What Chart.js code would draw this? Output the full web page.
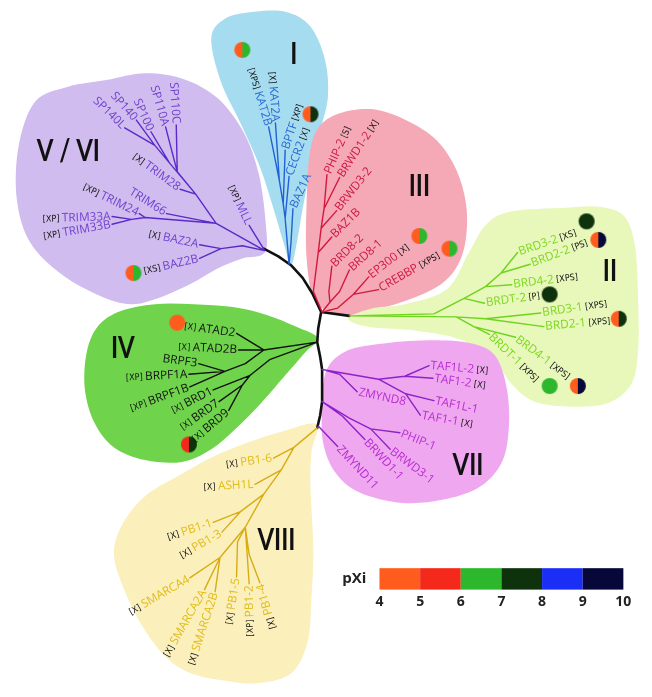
<!DOCTYPE html>
<html>
<head>
<meta charset="utf-8">
<script src="https://cdn.jsdelivr.net/npm/chart.js@4/dist/chart.umd.min.js"></script>
<style>
html, body { margin: 0; padding: 0; background: #fff; }
canvas { display: block; }
</style>
</head>
<body>
<canvas id="chart" width="652" height="697"></canvas>
<script>
// pXi colour key
const pxiTicks = [4, 5, 6, 7, 8, 9, 10];
const pxiColors = ['#ff5c1e', '#f5281c', '#2db72d', '#0e330c', '#1a2ef5', '#07073a'];

// backbone of the tree (tree units)
const backbone = [[262,246],[277,254],[290,263],[302,276],[312,292],[321,311],[318,328],[317,342],[320,357],[322,370],[322,387],[322,403],[320,417],[317,430]];
const stemII = [[321,311],[350,315]];

// subfamily I
const leavesI = ['KAT2B','KAT2A','BPTF','CECR2','BAZ1A'];
const tagsI = ['XPS','X','XP','X',''];
const tipsI = [[267,121],[274,117],[284,145],[288,172],[292,205]];
const pathsI = [
  [[288,262],[286,238],[284,215],[282,200],[278,176]],
  [[288,262],[286,238],[284,215],[282,200],[278,176]],
  [[288,262],[286,238],[284,215],[282,200]],
  [[288,262],[286,238],[284,215]],
  [[288,262],[290,240]]
];

// subfamily III
const leavesIII = ['PHIP-2','BRWD1-2','BRWD3-2','BAZ1B','BRD8-2','BRD8-1','EP300','CREBBP'];
const tagsIII = ['S','X','','','','','X','XPS'];
const tipsIII = [[327,170],[340,173],[337,207],[332,234],[332,264],[350,268],[370,275],[380,288]];
const pathsIII = [
  [[322,311],[313,290],[318,250],[321,225],[324,205]],
  [[322,311],[313,290],[318,250],[321,225],[324,205]],
  [[322,311],[313,290],[318,250],[321,225]],
  [[322,311],[313,290],[318,250]],
  [[322,311],[330,301],[329,290]],
  [[322,311],[330,301],[340,290]],
  [[322,311],[338,307],[354,293]],
  [[322,311],[338,307],[354,293]]
];

// subfamily II
const leavesII = ['BRD3-2','BRD2-2','BRD4-2','BRDT-2','BRD3-1','BRD2-1','BRD4-1','BRDT-1'];
const tagsII = ['XS','PS','XPS','P','XPS','XPS','XPS','XPS'];
const tipsII = [[523,250],[536,262],[517,283],[489,302],[547,312],[550,326],[521,337],[494,334]];
const pathsII = [
  [[350,315],[437,313],[468,297],[490,285],[506,271]],
  [[350,315],[437,313],[468,297],[490,285],[506,271]],
  [[350,315],[437,313],[468,297],[490,285]],
  [[350,315],[437,313],[468,297]],
  [[350,315],[460,316],[490,318]],
  [[350,315],[460,316],[490,318]],
  [[350,315],[460,316],[478,326]],
  [[350,315],[460,316],[478,326]]
];

// subfamily VII
const leavesVII = ['TAF1L-2','TAF1-2','ZMYND8','TAF1L-1','TAF1-1','PHIP-1','BRWD3-1','BRWD1-1','ZMYND11'];
const tagsVII = ['X','X','','','X','','','',''];
const tipsVII = [[432,366],[436,379],[358,393],[437,402],[423,417],[402,435],[392,452],[366,442],[338,449]];
const pathsVII = [
  [[322,370],[380,380],[407,377]],
  [[322,370],[380,380],[407,377]],
  [[322,370],[340,375]],
  [[322,370],[380,380],[408,395]],
  [[322,370],[380,380],[408,395]],
  [[322,403],[350,420],[372,431]],
  [[322,403],[350,420],[372,431]],
  [[322,403],[343,418]],
  [[318,428]]
];

// subfamily VIII
const leavesVIII = ['PB1-6','ASH1L','PB1-1','PB1-3','SMARCA4','SMARCA2A','SMARCA2B','PB1-5','PB1-2','PB1-4'];
const tagsVIII = ['X','X','X','X','X','X','X','X','XP','X'];
const tipsVIII = [[272,461],[253,488],[210,527],[219,537],[186,584],[201,596],[212,598],[234,583],[247,590],[258,589]];
const pathsVIII = [
  [[317,430],[293,450]],
  [[317,430],[293,450],[280,473]],
  [[317,430],[293,450],[280,473],[262,498],[238,516]],
  [[317,430],[293,450],[280,473],[262,498],[238,516]],
  [[317,430],[293,450],[280,473],[262,498],[243,532],[217,563]],
  [[317,430],[293,450],[280,473],[262,498],[243,532],[217,563]],
  [[317,430],[293,450],[280,473],[262,498],[243,532],[217,563]],
  [[317,430],[293,450],[280,473],[262,498],[243,532],[235,547]],
  [[317,430],[293,450],[280,473],[262,498],[243,532]],
  [[317,430],[293,450],[280,473],[262,498],[243,532],[247,560]]
];

// subfamily IV
const leavesIV = ['ATAD2','ATAD2B','BRPF3','BRPF1A','BRPF1B','BRD1','BRD7','BRD9'];
const tagsIV = ['X','X','','XP','XP','X','X','X'];
const tipsIV = [[234,333],[236,350],[195,364],[185,375],[186,388],[210,391],[216,403],[226,412]];
const pathsIV = [
  [[317,342],[262,350]],
  [[317,342],[262,350]],
  [[317,342],[262,350],[243,364],[222,372]],
  [[317,342],[262,350],[243,364],[222,372]],
  [[317,342],[262,350],[243,364],[222,372]],
  [[317,342],[268,360],[248,376]],
  [[317,342],[268,360],[248,376],[240,386]],
  [[317,342],[268,360],[248,376],[240,386]]
];

// subfamilies V / VI
const leavesV = ['SP140L','SP140','SP100','SP110A','SP110C','TRIM28','TRIM66','TRIM24','TRIM33A','TRIM33B','BAZ2A','BAZ2B','MLL'];
const tagsV = ['','','','','','X','','XP','XP','XP','X','XS','XP'];
const tipsV = [[119,122],[131,114],[146,126],[161,121],[172,119],[176,185],[162,210],[134,210],[106,213],[106,221],[196,242],[196,256],[247,222]];
const pathsV = [
  [[263,248],[213,220],[192,190],[165,158],[150,140]],
  [[263,248],[213,220],[192,190],[165,158],[150,140]],
  [[263,248],[213,220],[192,190],[165,158]],
  [[263,248],[213,220],[192,190],[173,167]],
  [[263,248],[213,220],[192,190],[173,167]],
  [[263,248],[213,220],[192,190]],
  [[263,248],[213,220]],
  [[263,248],[213,220],[140,214]],
  [[263,248],[213,220],[140,214],[126,216]],
  [[263,248],[213,220],[140,214],[126,216]],
  [[263,248],[240,243],[218,246]],
  [[263,248],[240,243],[218,246]],
  [[263,248]]
];

// measured pXi (left half, right half of each dot)
const markerLeaves = ['KAT2B','BPTF','EP300','CREBBP','BRD3-2','BRD2-2','BRDT-2','BRD2-1','BRD4-1','BRDT-1','ATAD2','BRD9','BAZ2B'];
const markerPxi = [[4.5,6.5],[4.5,7.5],[4.5,6.5],[4.5,6.5],[7.5,7.5],[4.5,9.5],[7.5,7.5],[4.5,7.5],[4.5,9.5],[6.5,6.5],[4.5,4.5],[5.5,7.5],[4.5,6.5]];
const markerPos = [[240,42],[310,108],[422,233],[453,246],[594,218],[606,237],[556,293],[627,318],[585,387],[556,387],[173,322],[185,447],[128,271]];

// layout of the drawing
const labelAngles = {
  I: [73,86,-72,-70,-66],
  III: [-66,-57,-52,-45,-45,-42,-38,-30],
  II: [-19,-21,-7,-8,-8,-5,37,44],
  VII: [5,8,12,12,10,22,37,47,47],
  VIII: [-8,-3,-18,-30,-30,-60,-72,-81,-91,-106],
  IV: [8,3,8,-3,-20,-27,-35,-40],
  V: [44,48,66,74,86,36,32,26,-2,-10,12,-13,65]
};
const blobs = {
  V: [[27,95],[60,80],[100,73],[140,66],[180,72],[215,92],[242,128],[257,170],[264,220],[263,250],[240,256],[215,266],[185,283],[150,298],[125,303],[95,295],[55,273],[22,240],[8,195],[10,140]],
  I: [[208,30],[222,10],[250,3],[285,3],[310,18],[325,52],[328,90],[320,125],[310,165],[302,205],[296,240],[290,263],[283,242],[272,205],[258,162],[238,117],[218,75]],
  III: [[318,122],[340,107],[375,103],[410,115],[440,135],[460,165],[470,200],[470,235],[462,262],[445,282],[415,297],[380,308],[352,314],[330,311],[313,297],[306,255],[306,200],[309,150]],
  II: [[350,316],[375,307],[407,303],[450,288],[473,250],[490,222],[515,208],[573,204],[607,203],[633,213],[644,245],[647,300],[647,350],[640,385],[615,405],[575,408],[540,403],[517,385],[495,356],[460,338],[417,330],[375,327],[354,322]],
  VII: [[326,372],[345,352],[380,344],[430,340],[475,343],[500,356],[512,390],[514,430],[507,465],[485,490],[450,503],[405,507],[360,496],[335,475],[323,445],[322,410]],
  IV: [[318,338],[295,326],[265,314],[230,306],[190,303],[150,303],[115,310],[92,325],[80,352],[78,390],[88,425],[108,450],[140,463],[178,465],[208,452],[232,432],[258,406],[285,375],[305,352]],
  VIII: [[316,426],[311,455],[310,490],[313,555],[311,605],[307,650],[290,682],[255,692],[225,690],[190,683],[163,667],[138,635],[118,595],[108,560],[116,530],[140,500],[173,480],[207,461],[240,447],[280,434]]
};
const blobColors = { V: '#d0bcee', I: '#a6dcf0', III: '#f5a9b6', II: '#e8f7ba', VII: '#efa8f0', IV: '#6fd44b', VIII: '#fbefbb' };
const lineColors = { V: '#5a2ac8', I: '#2260d4', III: '#d4183c', II: '#6ed41e', VII: '#8c22c8', IV: '#111111', VIII: '#d8ac14' };
const textColors = { V: '#7040d0', I: '#2a6ad2', III: '#cc1840', II: '#7ad81e', VII: '#b82cd2', IV: '#111111', VIII: '#e0bc18' };
const numeralPos = { I: [293,46], II: [618,268], III: [422,181], IV: [117,347], V: [61,145], VII: [472,467], VIII: [275,544] };
const numeralText = { I: 'I', II: 'II', III: 'III', IV: 'IV', V: 'V / VI', VII: 'VII', VIII: 'VIII' };

const clades = {
  I: [leavesI, tagsI, tipsI, pathsI],
  III: [leavesIII, tagsIII, tipsIII, pathsIII],
  II: [leavesII, tagsII, tipsII, pathsII],
  VII: [leavesVII, tagsVII, tipsVII, pathsVII],
  VIII: [leavesVIII, tagsVIII, tipsVIII, pathsVIII],
  IV: [leavesIV, tagsIV, tipsIV, pathsIV],
  V: [leavesV, tagsV, tipsV, pathsV]
};
// labels that end at the tip (text runs towards the centre)
const endSided = { I: [true,true,false,false,false], V: true, IV: true, VIII: true };

function pxiColor(v) {
  return pxiColors[Math.min(pxiColors.length - 1, Math.floor(v - pxiTicks[0]))];
}

function branchData(paths, tips) {
  let out = [];
  paths.forEach((p, i) => {
    p.concat([tips[i]]).forEach(pt => out.push({x: pt[0], y: pt[1]}));
    out.push({x: null, y: null});
  });
  return out;
}

function dotImage(pair) {
  let c = document.createElement('canvas');
  c.width = 18; c.height = 18;
  let g = c.getContext('2d');
  g.fillStyle = pxiColor(pair[0]);
  g.beginPath(); g.moveTo(9, 9); g.arc(9, 9, 8, Math.PI / 2, Math.PI * 1.5); g.closePath(); g.fill();
  g.fillStyle = pxiColor(pair[1]);
  g.beginPath(); g.moveTo(9, 9); g.arc(9, 9, 8, -Math.PI / 2, Math.PI / 2); g.closePath(); g.fill();
  return c;
}

let datasets = [];
Object.keys(clades).forEach(k => {
  let c = clades[k];
  datasets.push({
    label: k,
    data: branchData(c[3], c[2]),
    showLine: true,
    spanGaps: false,
    borderColor: lineColors[k],
    borderWidth: 1.4,
    borderCapStyle: 'round',
    borderJoinStyle: 'round',
    pointRadius: 0
  });
});
datasets.push({
  label: 'backbone',
  data: backbone.map(p => ({x: p[0], y: p[1]})).concat([{x: null, y: null}], stemII.map(p => ({x: p[0], y: p[1]}))),
  showLine: true,
  spanGaps: false,
  borderColor: '#111',
  borderWidth: 2.6,
  borderCapStyle: 'round',
  borderJoinStyle: 'round',
  pointRadius: 0
});
datasets.push({
  label: 'pXi',
  data: markerPos.map(p => ({x: p[0], y: p[1]})),
  showLine: false,
  pointStyle: markerPxi.map(dotImage),
  pointRadius: 8
});

const blobPlugin = {
  id: 'blobs',
  beforeDatasetsDraw(chart) {
    const ctx = chart.ctx, xs = chart.scales.x, ys = chart.scales.y;
    Object.keys(blobs).forEach(k => {
      let pts = blobs[k].map(p => [xs.getPixelForValue(p[0]), ys.getPixelForValue(p[1])]);
      let n = pts.length;
      ctx.save();
      ctx.fillStyle = blobColors[k];
      ctx.beginPath();
      ctx.moveTo(pts[0][0], pts[0][1]);
      for (let i = 0; i < n; i++) {
        let p0 = pts[(i - 1 + n) % n], p1 = pts[i], p2 = pts[(i + 1) % n], p3 = pts[(i + 2) % n];
        ctx.bezierCurveTo(p1[0] + (p2[0] - p0[0]) / 6, p1[1] + (p2[1] - p0[1]) / 6,
                          p2[0] - (p3[0] - p1[0]) / 6, p2[1] - (p3[1] - p1[1]) / 6,
                          p2[0], p2[1]);
      }
      ctx.closePath();
      ctx.fill();
      ctx.restore();
    });
  }
};

const nameFont = '11.8px "Open Sans", sans-serif';
const tagFont = '9px "DejaVu Sans Condensed", "Liberation Sans Narrow", sans-serif';

function drawLabel(ctx, x, y, deg, atEnd, name, tag, color) {
  ctx.save();
  ctx.translate(x, y);
  ctx.rotate(deg * Math.PI / 180);
  ctx.textBaseline = 'middle';
  ctx.textAlign = 'left';
  ctx.font = nameFont;
  let wn = ctx.measureText(name).width;
  let t = tag ? '[' + tag + ']' : '';
  ctx.font = tagFont;
  let wt = t ? ctx.measureText(t).width + 2.5 : 0;
  let gap = 1.5;
  if (atEnd) {
    let x0 = -gap - wn - wt;
    if (t) { ctx.fillStyle = '#111'; ctx.fillText(t, x0, 0.5); }
    ctx.font = nameFont; ctx.fillStyle = color; ctx.fillText(name, x0 + wt, 0);
  } else {
    ctx.font = nameFont; ctx.fillStyle = color; ctx.fillText(name, gap, 0);
    if (t) { ctx.font = tagFont; ctx.fillStyle = '#111'; ctx.fillText(t, gap + wn + 2.5, 0.5); }
  }
  ctx.restore();
}

const textPlugin = {
  id: 'texts',
  afterDatasetsDraw(chart) {
    const ctx = chart.ctx, xs = chart.scales.x, ys = chart.scales.y;
    Object.keys(clades).forEach(k => {
      let c = clades[k];
      c[0].forEach((name, i) => {
        let side = endSided[k];
        let atEnd = Array.isArray(side) ? side[i] : !!side;
        drawLabel(ctx, xs.getPixelForValue(c[2][i][0]), ys.getPixelForValue(c[2][i][1]),
                  labelAngles[k][i], atEnd, name, c[1][i], textColors[k]);
      });
      // subfamily numeral
      let np = numeralPos[k];
      ctx.save();
      ctx.translate(xs.getPixelForValue(np[0]), ys.getPixelForValue(np[1]));
      ctx.scale(0.8, 1);
      ctx.font = 'bold 30px Lato, "Open Sans", sans-serif';
      ctx.fillStyle = '#111';
      ctx.textAlign = 'center';
      ctx.textBaseline = 'middle';
      ctx.fillText(numeralText[k], 0, 1);
      ctx.restore();
    });

    // pXi colour key
    const kx = v => xs.getPixelForValue(381 + (v - pxiTicks[0]) * 41.8);
    const top = ys.getPixelForValue(574), bot = ys.getPixelForValue(596);
    for (let i = 0; i < pxiColors.length; i++) {
      ctx.fillStyle = pxiColors[i];
      ctx.fillRect(kx(pxiTicks[i]), top, kx(pxiTicks[i + 1]) - kx(pxiTicks[i]), bot - top);
    }
    ctx.fillStyle = '#222';
    ctx.font = 'bold 15px "Open Sans", sans-serif';
    ctx.textAlign = 'center';
    ctx.textBaseline = 'middle';
    ctx.fillText('pXi', xs.getPixelForValue(355), ys.getPixelForValue(585));
    ctx.font = 'bold 14px "Open Sans", sans-serif';
    pxiTicks.forEach(v => ctx.fillText(String(v), kx(v), ys.getPixelForValue(609)));
  }
};

new Chart(document.getElementById('chart').getContext('2d'), {
  type: 'scatter',
  data: { datasets: datasets },
  options: {
    responsive: false,
    animation: false,
    events: [],
    layout: { padding: 0 },
    plugins: { legend: { display: false }, tooltip: { enabled: false } },
    scales: {
      x: { type: 'linear', min: 0, max: 652, display: false },
      y: { type: 'linear', min: 0, max: 697, reverse: true, display: false }
    }
  },
  plugins: [blobPlugin, textPlugin]
});
</script>
</body>
</html>
